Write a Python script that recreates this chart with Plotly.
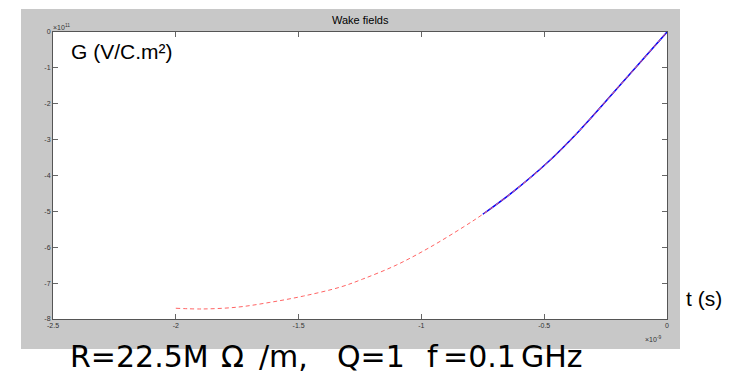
import plotly.graph_objects as go

# Data (t in units of 1e-9 s, G in units of 1e11 V/C.m^2)
t_dashed = [-2.0, -1.89, -1.75, -1.62, -1.48, -1.33, -1.24, -1.10, -0.965, -0.83, -0.75, -0.626, -0.49, -0.354, -0.178, 0.0]
g_dashed = [-7.70, -7.72, -7.67, -7.54, -7.36, -7.11, -6.89, -6.49, -6.00, -5.44, -5.08, -4.45, -3.66, -2.73, -1.38, 0.0]
t_solid = [-0.75, -0.626, -0.49, -0.354, -0.178, 0.0]
g_solid = [-5.08, -4.45, -3.66, -2.73, -1.38, 0.0]

x_ticks = [-2.5, -2, -1.5, -1, -0.5, 0]
x_ticklabels = ["-2.5", "-2", "-1.5", "-1", "-0.5", "0"]
y_ticks = [0, -1, -2, -3, -4, -5, -6, -7, -8]
y_ticklabels = ["0", "-1", "-2", "-3", "-4", "-5", "-6", "-7", "-8"]

# caption pieces (text, left pixel position)
caption_parts = [("R=22.5M", 68), ("Ω", 219), ("/m,", 257), ("Q=1", 335), ("f", 425), ("=0.1", 441), ("GHz", 519)]

W, H = 754, 371
L, R, T, B = 53, 667, 32, 319
pw, ph = R - L, B - T

def px(x):
    return (x - L) / pw

def py(y):
    return (B - y) / ph

fig = go.Figure()
fig.add_trace(go.Scatter(x=t_solid, y=g_solid, mode="lines", line=dict(color="blue", width=1.5, shape="spline"), showlegend=False))
fig.add_trace(go.Scatter(x=t_dashed, y=g_dashed, mode="lines", line=dict(color="rgb(255,100,100)", width=1, dash="4px,3px", shape="spline"), showlegend=False))

axis_common = dict(showline=True, linecolor="#555555", linewidth=1, mirror="ticks", ticks="inside",
                   ticklen=5, tickcolor="#666666", showgrid=False, zeroline=False,
                   tickfont=dict(family="Liberation Sans, Arial", size=7, color="#333333"))

fig.update_xaxes(range=[-2.5, 0], tickvals=x_ticks, ticktext=x_ticklabels, **axis_common)
fig.update_yaxes(range=[-8, 0], tickvals=y_ticks, ticktext=y_ticklabels, **axis_common)

shapes = [
    dict(type="rect", xref="paper", yref="paper", x0=px(21), x1=px(680), y0=py(349), y1=py(9),
         fillcolor="#C8C8C8", line=dict(width=0), layer="below"),
    dict(type="rect", xref="paper", yref="paper", x0=0, x1=1, y0=0, y1=1,
         fillcolor="white", line=dict(width=0), layer="below"),
]

annotations = [
    dict(text="Wake fields", x=px(360), y=py(20), xanchor="center", yanchor="middle",
         font=dict(family="Liberation Sans, Arial", size=11, color="black")),
    dict(text="G (V/C.m²)", x=px(69), y=py(51), xanchor="left", yanchor="middle",
         font=dict(family="Liberation Sans, Arial", size=21, color="black")),
    dict(text="t (s)", x=px(684), y=py(298), xanchor="left", yanchor="middle",
         font=dict(family="Liberation Sans, Arial", size=21, color="black")),
    dict(text="×10<sup>11</sup>", x=px(51), y=py(27), xanchor="left", yanchor="middle",
         font=dict(family="Liberation Sans, Arial", size=7, color="#333333")),
    dict(text="×10<sup>-9</sup>", x=px(643), y=py(339), xanchor="left", yanchor="middle",
         font=dict(family="Liberation Sans, Arial", size=7, color="#333333")),
]
for txt, xpos in caption_parts:
    annotations.append(dict(text=txt, x=px(xpos), y=py(356), xanchor="left", yanchor="middle",
                            font=dict(family="DejaVu Sans", size=30, color="black")))
for a in annotations:
    a.update(xref="paper", yref="paper", showarrow=False)

fig.update_layout(width=W, height=H, margin=dict(l=L, r=W - R, t=T, b=H - B, pad=0),
                  paper_bgcolor="white", plot_bgcolor="rgba(0,0,0,0)",
                  shapes=shapes, annotations=annotations, showlegend=False)

fig.write_html("out.html")
